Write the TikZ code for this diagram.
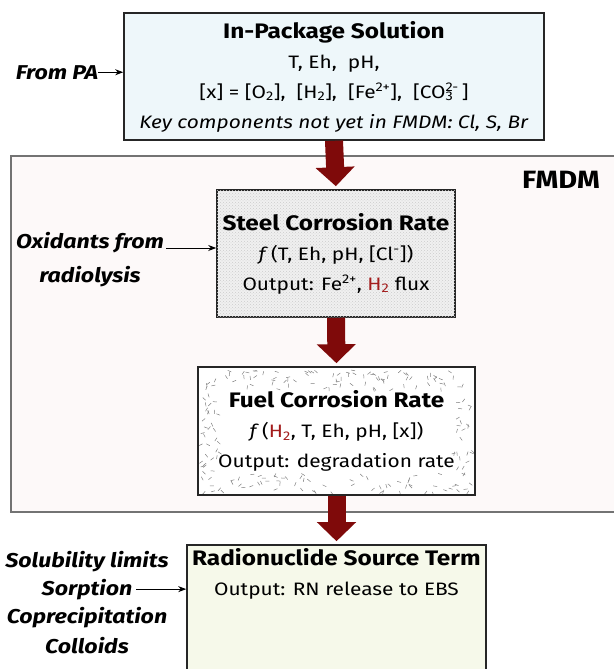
\documentclass[tikz,border=0pt]{standalone}
\usepackage{fontspec}
\setmainfont[FakeStretch=1.16]{Fira Sans}
\usetikzlibrary{arrows.meta}
\usetikzlibrary{patterns}
\usetikzlibrary{calc}
\usetikzlibrary{positioning}

\definecolor{pkgblue}{HTML}{EEF7FA}
\definecolor{fmdmpink}{HTML}{FDF9F9}
\definecolor{rngreen}{HTML}{F6F9EA}
\definecolor{flowred}{HTML}{7F0A0A}
\definecolor{htwo}{HTML}{A31C1C}

\newcommand{\supsub}[2]{\rlap{\textsubscript{#2}}\textsuperscript{#1}}
\newcommand{\boxtitle}[1]{{\fontsize{21}{30}\selectfont\bfseries #1}}

\tikzstyle{box} = [draw=black!85, line width=1.6pt, inner sep=0pt, align=center, font=\fontsize{18}{30}\selectfont]
\tikzstyle{flow} = [line width=18pt, draw=flowred, -{Triangle[length=19pt,width=38pt]}, shorten >=3pt]
\tikzstyle{feed} = [-{Stealth[length=8pt,width=6pt]}, line width=0.9pt]
\tikzstyle{lbl} = [anchor=base, inner sep=0pt, font=\fontsize{20}{24}\selectfont\bfseries\itshape]

\begin{document}
\begin{tikzpicture}[x=1pt, y=-1pt]

  \useasboundingbox (0,0) rectangle (613,669);
  \fill[white] (0,0) rectangle (613,669);

  % FMDM frame
  \draw[draw=black!55, fill=fmdmpink, line width=1.2pt] (11,156) rectangle (650,512);
  \node[anchor=base, inner sep=0pt, font=\fontsize{25}{30}\selectfont\bfseries] (fmdm) at (561,188) {FMDM};

  \node[box, fill=pkgblue, minimum width=420pt, minimum height=127pt] (pkg) at (334,76.5) {%
    \boxtitle{In-Package Solution}\\
    T, Eh,\ \ pH,\\
    {[x]} = [O\textsubscript{2}],\ \ [H\textsubscript{2}],\ \ [Fe\textsuperscript{2+}],\ \ [CO\supsub{2-}{3}\,]\\
    \textit{Key components not yet in FMDM: Cl, S, Br}};

  \node[box, fill=black!6, postaction={pattern=crosshatch dots, pattern color=black!20},
        minimum width=238pt, minimum height=127pt] (steel) at (336,253.5) {%
    \boxtitle{Steel Corrosion Rate}\\
    \textit{f}\,(T, Eh, pH, [Cl\textsuperscript{-}])\\
    Output: Fe\textsuperscript{2+}, \textcolor{htwo}{H\textsubscript{2}} flux};

  \node[box, fill=white, minimum width=277pt, minimum height=128pt,
        path picture={
          \pgfmathsetseed{11}
          \foreach \i in {1,...,520} {
            \pgfmathsetmacro\dx{3+rnd*271}
            \pgfmathsetmacro\dy{3+rnd*122}
            \pgfmathsetmacro\da{rnd*180}
            \pgfmathparse{(abs(\dx-138.5)<118 && abs(\dy-64)<42) ? 0 : 1}
            \ifdim\pgfmathresult pt>0.5pt
              \draw[black!50, line width=0.5pt] ($(path picture bounding box.north west)+(\dx,\dy)$) -- ++(\da:4);
            \fi
          }
        }] (fuel) at (336.5,431) {%
    \boxtitle{Fuel Corrosion Rate}\\
    \textit{f}\,(\textcolor{htwo}{H\textsubscript{2}}, T, Eh, pH, [x])\\
    Output: degradation rate};

  \node[box, fill=rngreen, minimum width=299pt, minimum height=160pt] (rn) at (336.5,625) {};
  \node[anchor=base, inner sep=0pt, align=center, font=\fontsize{18}{30}\selectfont] (rntext) at (336.5,595) {%
    \boxtitle{Radionuclide Source Term}\\
    Output: RN release to EBS};

  % main flow
  \draw[flow] (pkg.south) -- (steel.north);
  \draw[flow] (steel.south) -- (fuel.north);
  \draw[flow] (fuel.south) -- (rn.north);

  % side inputs
  \node[lbl] (frompa) at (57,79) {From PA};
  \draw[feed] (frompa.east) -- (frompa.east -| pkg.west);

  \node[lbl] (oxa) at (90,248) {Oxidants from};
  \node[lbl] (oxb) at (90,282) {radiolysis};
  \draw[feed, shorten <=2pt] (oxa.base east) -- (oxa.base east -| steel.west);

  \node[lbl] (solub) at (87,567) {Solubility limits};
  \node[lbl] (sorp) at (87,595) {Sorption};
  \node[lbl] (copre) at (87,623) {Coprecipitation};
  \node[lbl] (colloid) at (87,653) {Colloids};
  \draw[feed, shorten <=4pt] (sorp.east) -- (sorp.east -| rn.west);

\end{tikzpicture}
\end{document}
